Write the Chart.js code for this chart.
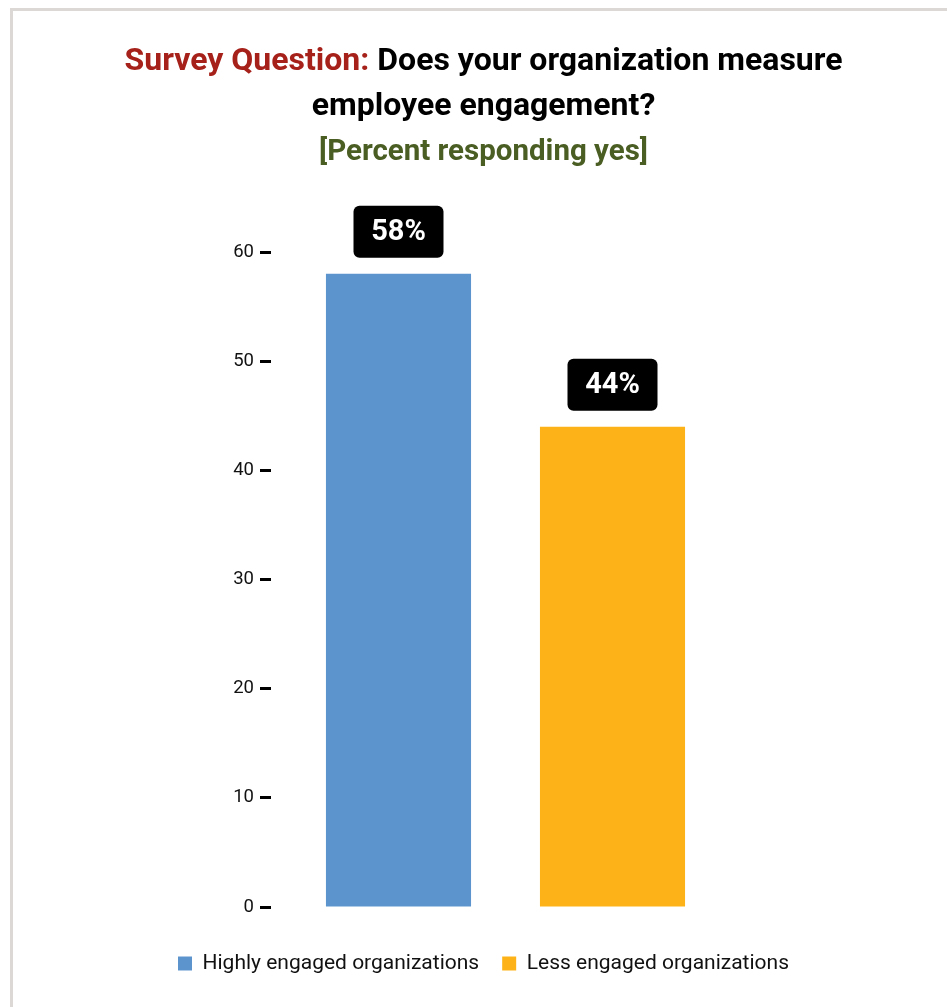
<!DOCTYPE html>
<html>
<head>
<meta charset="utf-8">
<script src="https://cdn.jsdelivr.net/npm/chart.js@4.4.1/dist/chart.umd.min.js"></script>
<style>
  html, body { margin: 0; padding: 0; background: #fff; overflow: hidden; }
  #frame {
    position: absolute; left: 10px; top: 8px; width: 2000px; height: 2000px;
    border-left: 3px solid #dcd8d6; border-top: 3px solid #dcd8d6;
  }
  #chart { position: absolute; left: 0; top: 0; }
</style>
</head>
<body>
<div id="frame"></div>
<canvas id="chart" width="947" height="1007"></canvas>
<script>
// Survey results: percent responding yes
const categories = [''];
const seriesNames = ['Highly engaged organizations', 'Less engaged organizations'];
const highlyEngaged = [58];
const lessEngaged = [44];
const yTicks = [0, 10, 20, 30, 40, 50, 60];

const titleLines = [
  [{ text: 'Survey Question: ', color: '#a6211a' }, { text: 'Does your organization measure', color: '#000000' }],
  [{ text: 'employee engagement?', color: '#000000' }],
  [{ text: '[Percent responding yes]', color: '#4a5d23' }]
];
const titleSizes = [32, 32, 29.5];

// Multi-colour centred title drawn on the canvas
const titlePlugin = {
  id: 'surveyTitle',
  afterDraw(chart) {
    const ctx = chart.ctx;
    ctx.save();
    ctx.textBaseline = 'middle';
    ctx.textAlign = 'left';
    const cx = 483.5;
    const ys = [62, 107, 153];
    titleLines.forEach((parts, i) => {
      ctx.font = 'bold ' + titleSizes[i] + 'px Roboto';
      const total = parts.reduce((s, p) => s + ctx.measureText(p.text).width, 0);
      let x = cx - total / 2;
      parts.forEach(p => {
        ctx.fillStyle = p.color;
        ctx.fillText(p.text, x, ys[i]);
        x += ctx.measureText(p.text).width;
      });
    });
    ctx.restore();
  }
};

// Black rounded value badges above each bar
const badgePlugin = {
  id: 'valueBadges',
  afterDatasetsDraw(chart) {
    const ctx = chart.ctx;
    ctx.save();
    ctx.font = 'bold 29px Roboto';
    ctx.textAlign = 'center';
    ctx.textBaseline = 'middle';
    chart.data.datasets.forEach((ds, di) => {
      const meta = chart.getDatasetMeta(di);
      meta.data.forEach((bar, i) => {
        const v = ds.data[i];
        if (v == null) return;
        const label = v + '%';
        const w = 90, h = 52, gap = 16;
        const bx = bar.x - w / 2;
        const by = bar.y - gap - h;
        ctx.fillStyle = '#000';
        ctx.beginPath();
        ctx.roundRect(bx, by, w, h, 6);
        ctx.fill();
        ctx.fillStyle = '#fff';
        ctx.fillText(label, bar.x, by + h / 2 + 1);
      });
    });
    ctx.restore();
  }
};

new Chart(document.getElementById('chart'), {
  type: 'bar',
  data: {
    labels: categories,
    datasets: [
      { label: seriesNames[0], data: highlyEngaged, backgroundColor: '#5c95cd' },
      { label: seriesNames[1], data: lessEngaged, backgroundColor: '#fdb317' }
    ]
  },
  options: {
    responsive: false,
    animation: false,
    categoryPercentage: 0.9126,
    barPercentage: 0.678,
    layout: { padding: { top: 252, left: 20, right: 0, bottom: 23 } },
    plugins: {
      title: { display: false },
      tooltip: { enabled: false },
      legend: {
        position: 'bottom',
        labels: {
          boxWidth: 14, boxHeight: 14, padding: 23,
          color: '#111', font: { family: 'Roboto', size: 21 }
        }
      }
    },
    scales: {
      x: {
        display: true,
        ticks: { display: false },
        grid: { display: false },
        border: { display: false },
        afterFit(axis) { axis.height = 23; }
      },
      y: {
        min: 0, max: 60,
        afterBuildTicks(axis) { axis.ticks = yTicks.map(v => ({ value: v })); },
        afterFit(axis) { axis.width = 251; },
        ticks: { color: '#111', padding: 6, font: { family: 'Roboto', size: 18.5 } },
        grid: { drawOnChartArea: false, drawTicks: true, tickLength: 11, tickWidth: 3, tickColor: '#000' },
        border: { display: false }
      },
      yRight: {
        position: 'right',
        display: true,
        ticks: { display: false },
        grid: { display: false },
        border: { display: false },
        afterFit(axis) { axis.width = 207; }
      }
    }
  },
  plugins: [titlePlugin, badgePlugin]
});
</script>
</body>
</html>
